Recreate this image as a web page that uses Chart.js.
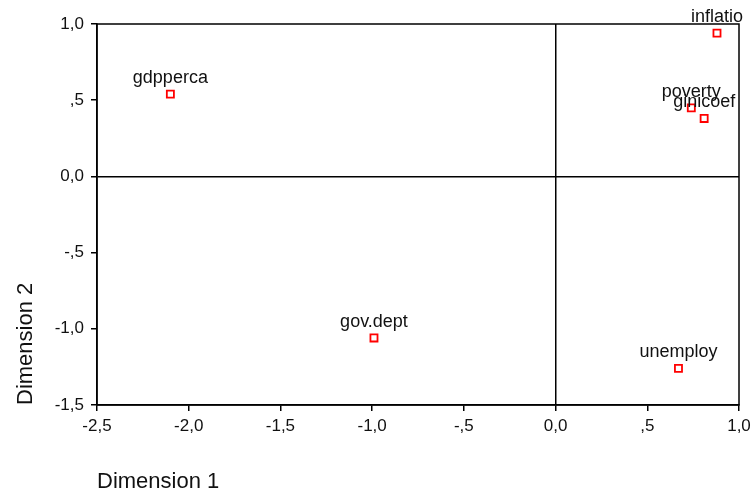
<!DOCTYPE html>
<html>
<head>
<meta charset="utf-8">
<script src="https://cdn.jsdelivr.net/npm/chart.js@4/dist/chart.umd.min.js"></script>
<style>
html,body{margin:0;padding:0;background:#fff;}
#wrap{width:751px;height:492px;}
</style>
</head>
<body>
<div id="wrap"><canvas id="c" width="751" height="492"></canvas></div>
<script>
const pointLabels = ["gdpperca", "inflatio", "poverty", "ginicoef", "gov.dept", "unemploy"];
const dim1 = [-2.10, 0.88, 0.74, 0.81, -0.99, 0.67];
const dim2 = [0.54, 0.94, 0.45, 0.38, -1.06, -1.26];
const xTicks = [-2.5, -2.0, -1.5, -1.0, -0.5, 0.0, 0.5, 1.0];
const yTicks = [-1.5, -1.0, -0.5, 0.0, 0.5, 1.0];
const xTitle = "Dimension 1";
const yTitle = "Dimension 2";

function fmt(v) {
  let s = Math.abs(v).toFixed(1).replace('.', ',');
  if (Math.abs(v) < 1 && v !== 0) s = s.replace(/^0/, '');
  return (v < 0 ? '-' : '') + s;
}

const FONT = "'Liberation Sans', Arial, sans-serif";

const decor = {
  id: 'decor',
  afterDatasetsDraw(chart) {
    const ctx = chart.ctx;
    ctx.save();
    ctx.fillStyle = '#111';
    ctx.font = "18px " + FONT;
    ctx.textAlign = 'center';
    ctx.textBaseline = 'alphabetic';
    const meta = chart.getDatasetMeta(0);
    meta.data.forEach((el, i) => {
      ctx.fillText(pointLabels[i], el.x, el.y - 11);
    });
    ctx.restore();
  },
  afterDraw(chart) {
    const ctx = chart.ctx;
    const a = chart.chartArea;
    ctx.save();
    ctx.strokeStyle = '#000';
    ctx.lineWidth = 1.5;
    ctx.strokeRect(a.left, a.top, a.right - a.left, a.bottom - a.top);
    ctx.fillStyle = '#111';
    ctx.font = "22px " + FONT;
    ctx.textAlign = 'left';
    ctx.textBaseline = 'alphabetic';
    ctx.fillText(xTitle, a.left, 488);
    ctx.translate(32, a.bottom);
    ctx.rotate(-Math.PI / 2);
    ctx.fillText(yTitle, 0, 0);
    ctx.restore();
  }
};

new Chart(document.getElementById('c'), {
  type: 'scatter',
  data: {
    datasets: [{
      data: dim1.map((x, i) => ({x: x, y: dim2[i]})),
      pointStyle: 'rect',
      pointRadius: 5,
      pointHoverRadius: 5,
      borderColor: '#ff0000',
      backgroundColor: '#ffffff',
      borderWidth: 1.8
    }]
  },
  options: {
    responsive: false,
    animation: false,
    events: [],
    layout: {padding: {left: 0, right: 12, top: 24, bottom: 0}},
    plugins: {legend: {display: false}, tooltip: {enabled: false}},
    scales: {
      x: {
        type: 'linear', min: -2.5, max: 1.0,
        afterBuildTicks: s => { s.ticks = xTicks.map(v => ({value: v})); },
        afterFit: s => { s.height = 87; s.paddingLeft = 0; s.paddingRight = 0; },
        ticks: {callback: v => fmt(v), color: '#111', font: {size: 17, family: FONT}, padding: 5, maxRotation: 0, autoSkip: false},
        grid: {
          drawOnChartArea: true,
          color: c => (c.tick && c.tick.value === 0) ? '#000' : 'rgba(0,0,0,0)',
          lineWidth: 1.5,
          tickColor: '#000', tickLength: 6, tickWidth: 1.5
        },
        border: {display: true, color: '#000', width: 1.5}
      },
      y: {
        type: 'linear', min: -1.5, max: 1.0,
        afterBuildTicks: s => { s.ticks = yTicks.map(v => ({value: v})); },
        afterFit: s => { s.width = 97; s.paddingTop = 0; s.paddingBottom = 0; },
        ticks: {callback: v => fmt(v), color: '#111', font: {size: 17, family: FONT}, padding: 7, autoSkip: false},
        grid: {
          drawOnChartArea: true,
          color: c => (c.tick && c.tick.value === 0) ? '#000' : 'rgba(0,0,0,0)',
          lineWidth: 1.5,
          tickColor: '#000', tickLength: 6, tickWidth: 1.5
        },
        border: {display: true, color: '#000', width: 1.5}
      }
    }
  },
  plugins: [decor]
});
</script>
</body>
</html>
